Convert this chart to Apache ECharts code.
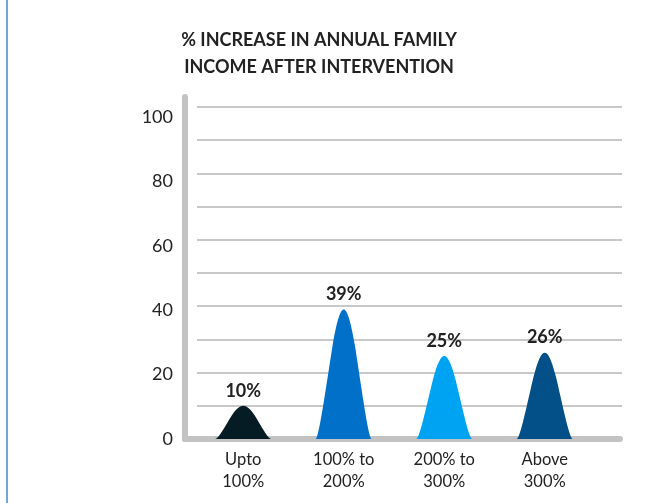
<!DOCTYPE html>
<html>
<head>
<meta charset="utf-8">
<script src="https://cdn.jsdelivr.net/npm/echarts@6/dist/echarts.min.js"></script>
<style>
  html, body { margin: 0; padding: 0; background: #fff; }
  #chart { width: 650px; height: 503px; }
</style>
</head>
<body>
<div id="chart"></div>
<script>
var categories = ['Upto\n100%', '100% to\n200%', '200% to\n300%', 'Above\n300%'];
var values = [10, 39, 25, 26];
var peakColors = ['#061c25', '#0070c8', '#00a3f1', '#034f87'];

var chart = echarts.init(document.getElementById('chart'));

// bell shaped "mountain" used for every bar
var bell = 'path://M0,100 C6,100 20,55 30,28 C38,8 44,0 50,0 C56,0 62,8 70,28 C80,55 94,100 100,100 Z';

var font = 'Lato, "Open Sans", sans-serif';

var opt = {
    animation: false,
    title: {
        text: '% INCREASE IN ANNUAL FAMILY\nINCOME AFTER INTERVENTION',
        left: 314,
        top: 22,
        textAlign: 'center',
        textStyle: {
            fontFamily: font,
            fontSize: 18,
            fontWeight: 'bold',
            color: '#222',
            lineHeight: 27
        }
    },
    graphic: [{
        type: 'rect',
        shape: { x: 6, y: 0, width: 2, height: 503 },
        style: { fill: '#6fa5da' }
    }],
    grid: [
        // data
        { left: 193, right: 55, top: 107, bottom: 64 },
        // grid lines
        { left: 197, right: 28, top: 107, bottom: 64 },
        // axis lines + y labels
        { left: 185, right: 30, top: 97, bottom: 64 }
    ],
    xAxis: [
        {
            gridIndex: 0,
            type: 'category',
            data: categories,
            axisLine: { show: false },
            axisTick: { show: false },
            axisLabel: {
                margin: 10,
                fontFamily: font,
                fontSize: 16.5,
                color: '#222',
                lineHeight: 22
            }
        },
        { gridIndex: 1, type: 'value', show: false },
        {
            gridIndex: 2,
            type: 'value',
            axisLine: { show: true, lineStyle: { color: '#c3c3c3', width: 6, cap: 'round' } },
            axisTick: { show: false },
            axisLabel: { show: false },
            splitLine: { show: false }
        }
    ],
    yAxis: [
        {
            gridIndex: 0,
            type: 'value',
            min: 0,
            max: 100,
            show: false
        },
        {
            gridIndex: 1,
            type: 'value',
            min: 0,
            max: 100,
            interval: 10,
            axisLine: { show: false },
            axisTick: { show: false },
            axisLabel: { show: false },
            splitLine: { lineStyle: { color: '#c8c8c8', width: 2 } }
        },
        {
            gridIndex: 2,
            type: 'value',
            min: 0,
            max: 106.2,
            interval: 20,
            axisLine: { show: true, lineStyle: { color: '#c3c3c3', width: 6, cap: 'round' } },
            axisTick: { show: false },
            splitLine: { show: false },
            axisLabel: {
                margin: 12,
                showMaxLabel: false,
                fontFamily: font,
                fontSize: 18,
                color: '#222'
            }
        }
    ],
    series: [{
        type: 'pictorialBar',
        xAxisIndex: 0,
        yAxisIndex: 0,
        symbol: bell,
        symbolSize: [56, '100%'],
        data: values.map(function (v, i) {
            return { value: v, itemStyle: { color: peakColors[i] } };
        }),
        label: {
            show: true,
            position: 'top',
            distance: 6,
            formatter: '{c}%',
            fontFamily: font,
            fontSize: 18,
            fontWeight: 'bold',
            color: '#222'
        }
    }]
};

chart.setOption(opt);

window.addEventListener('resize', function () {
    chart.resize();
});
</script>
</body>
</html>
